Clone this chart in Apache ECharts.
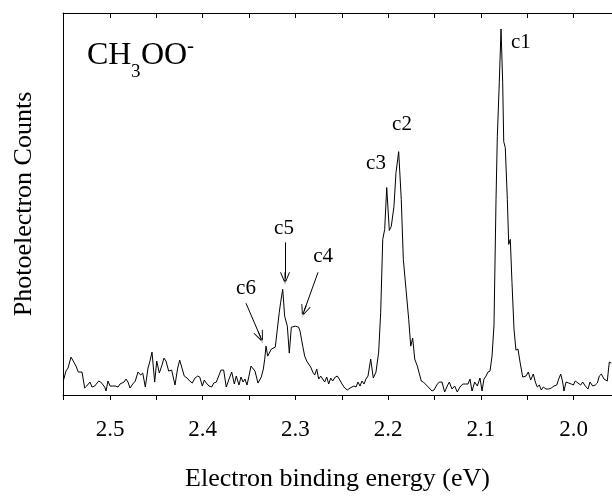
<!DOCTYPE html>
<html>
<head>
<meta charset="utf-8">
<script src="https://cdn.jsdelivr.net/npm/echarts@6/dist/echarts.min.js"></script>
<style>
  html, body { margin: 0; padding: 0; background: #fff; }
  #chart { width: 612px; height: 497px; }
</style>
</head>
<body>
<div id="chart"></div>
<script>
// binding energy (eV) left to right
const energy = [
  2.5504, 2.5475, 2.5453, 2.5421, 2.5396, 2.5367, 2.5342, 2.5324, 2.5302, 2.5273,
  2.5251, 2.5230, 2.5216, 2.5194, 2.5165, 2.5144, 2.5122, 2.5100, 2.5079, 2.5057,
  2.5043, 2.5022, 2.5000, 2.4971, 2.4943, 2.4914, 2.4892, 2.4871, 2.4849, 2.4827,
  2.4806, 2.4784, 2.4755, 2.4727, 2.4698, 2.4669, 2.4647, 2.4619, 2.4590, 2.4569,
  2.4547, 2.4518, 2.4496, 2.4468, 2.4439, 2.4418, 2.4396, 2.4367, 2.4335, 2.4299,
  2.4270, 2.4248, 2.4227, 2.4199, 2.4169, 2.4140, 2.4112, 2.4083, 2.4054, 2.4032,
  2.4004, 2.3983, 2.3961, 2.3932, 2.3903, 2.3881, 2.3853, 2.3832, 2.3803, 2.3774,
  2.3746, 2.3716, 2.3687, 2.3659, 2.3638, 2.3609, 2.3587, 2.3565, 2.3544, 2.3522,
  2.3501, 2.3479, 2.3458, 2.3436, 2.3404, 2.3368, 2.3346, 2.3331, 2.3317, 2.3299,
  2.3282, 2.3260, 2.3239, 2.3217, 2.3195, 2.3174, 2.3159, 2.3137, 2.3116, 2.3101,
  2.3087, 2.3066, 2.3044, 2.3023, 2.3001, 2.2986, 2.2965, 2.2950, 2.2936, 2.2921,
  2.2900, 2.2878, 2.2857, 2.2835, 2.2813, 2.2792, 2.2770, 2.2749, 2.2727, 2.2706,
  2.2684, 2.2662, 2.2641, 2.2619, 2.2598, 2.2570, 2.2548, 2.2527, 2.2497, 2.2468,
  2.2440, 2.2411, 2.2368, 2.2346, 2.2325, 2.2303, 2.2282, 2.2260, 2.2239, 2.2217,
  2.2188, 2.2160, 2.2131, 2.2102, 2.2080, 2.2058, 2.2037, 2.2015, 2.1987, 2.1966,
  2.1937, 2.1915, 2.1886, 2.1858, 2.1836, 2.1807, 2.1778, 2.1756, 2.1735, 2.1713,
  2.1685, 2.1664, 2.1642, 2.1620, 2.1599, 2.1577, 2.1556, 2.1527, 2.1505, 2.1476,
  2.1448, 2.1419, 2.1390, 2.1362, 2.1340, 2.1311, 2.1282, 2.1254, 2.1225, 2.1195,
  2.1167, 2.1138, 2.1117, 2.1095, 2.1066, 2.1038, 2.1009, 2.0987, 2.0966, 2.0944,
  2.0923, 2.0901, 2.0879, 2.0858, 2.0836, 2.0822, 2.0801, 2.0782, 2.0764, 2.0753,
  2.0736, 2.0714, 2.0699, 2.0682, 2.0664, 2.0642, 2.0621, 2.0599, 2.0577, 2.0548,
  2.0513, 2.0488, 2.0462, 2.0434, 2.0412, 2.0391, 2.0369, 2.0348, 2.0326, 2.0297,
  2.0268, 2.0240, 2.0211, 2.0181, 2.0160, 2.0138, 2.0117, 2.0103, 2.0081, 2.0052,
  2.0024, 2.0002, 1.9981, 1.9952, 1.9923, 1.9901, 1.9873, 1.9844, 1.9822, 1.9793,
  1.9765, 1.9743, 1.9722, 1.9700, 1.9671, 1.9636, 1.9614, 1.9592
];

// photoelectron counts (arbitrary units)
const counts = [
  14, 24, 27, 38, 34, 29, 23, 25, 23, 7,
  9, 8, 13, 8, 9, 11, 14, 13, 13, 8,
  4, 14, 9, 9, 9, 8, 11, 9, 13, 16,
  13, 7, 11, 14, 23, 20, 22, 8, 27, 34,
  43, 13, 34, 22, 30, 37, 34, 24, 25, 10,
  27, 35, 33, 19, 17, 14, 12, 17, 19, 18,
  9, 15, 12, 9, 8, 12, 13, 12, 25, 25,
  8, 16, 23, 11, 19, 10, 18, 13, 16, 10,
  19, 29, 27, 24, 12, 18, 26, 36, 49, 39,
  40, 46, 44, 48, 66, 83, 93, 106, 79, 81,
  69, 42, 68, 66, 69, 67, 68, 64, 66, 49,
  39, 34, 33, 28, 23, 20, 26, 16, 19, 17,
  13, 18, 11, 17, 14, 18, 19, 16, 11, 7,
  5, 7, 9, 8, 13, 9, 14, 11, 16, 19,
  36, 17, 23, 43, 83, 156, 166, 208, 165, 169,
  189, 223, 244, 196, 136, 106, 76, 49, 57, 36,
  29, 28, 14, 13, 12, 9, 8, 4, 5, 10,
  13, 13, 3, 9, 13, 6, 9, 3, 8, 11,
  11, 11, 16, 4, 13, 9, 17, 4, 16, 19,
  23, 24, 39, 70, 196, 259, 313, 367, 313, 254,
  248, 196, 151, 156, 113, 66, 45, 46, 33, 18,
  19, 23, 15, 21, 13, 8, 10, 5, 8, 6,
  6, 7, 9, 10, 16, 21, 13, 4, 13, 12,
  11, 10, 14, 12, 10, 13, 9, 6, 13, 9,
  10, 12, 19, 21, 16, 14, 33, 32
];

const tickValues = [2.0, 2.05, 2.1, 2.15, 2.2, 2.25, 2.3, 2.35, 2.4, 2.45, 2.5, 2.55];
const labelValues = [2.0, 2.1, 2.2, 2.3, 2.4, 2.5];

// peak labels and arrows (data coordinates)
const peakNames = ['c1', 'c2', 'c3', 'c4', 'c5', 'c6'];
const peakLabelE = [2.0567, 2.1850, 2.2131, 2.2702, 2.3123, 2.3533];
const peakLabelY = [353, 271, 232, 139, 167, 107];
const arrows = [
  [[2.3112, 153], [2.3112, 117]], // c5
  [[2.2756, 123], [2.2907, 84]],  // c4
  [[2.3533, 92], [2.3376, 58]]    // c6
];

const FONT = 'Liberation Serif';
const chevron = 'path://M0,0 L-5,12 L-4,12 L0,2.5 L4,12 L5,12 Z M-0.5,1 L0.5,1 L0.5,12 L-0.5,12 Z';

const chart = echarts.init(document.getElementById('chart'));

const baseX = {
  type: 'value',
  inverse: true,
  min: 1.9585,
  max: 2.5507,
  splitLine: { show: false },
  axisLine: { show: true, onZero: false, lineStyle: { color: '#000', width: 1 } }
};

chart.setOption({
  animation: false,
  backgroundColor: '#fff',
  grid: { left: 63, right: 0, top: 13, bottom: 101 },
  xAxis: [
    Object.assign({}, baseX, {
      position: 'bottom',
      axisTick: { show: true, inside: false, length: 5, customValues: tickValues, lineStyle: { color: '#000' } },
      axisLabel: {
        show: true,
        customValues: labelValues,
        formatter: v => v.toFixed(1),
        color: '#000',
        fontFamily: FONT,
        fontSize: 23,
        margin: 23
      },
      name: 'Electron binding energy (eV)',
      nameLocation: 'middle',
      nameGap: 71,
      nameTextStyle: { color: '#000', fontFamily: FONT, fontSize: 26 }
    }),
    Object.assign({}, baseX, {
      position: 'top',
      axisTick: { show: true, inside: true, length: 5, customValues: tickValues, lineStyle: { color: '#000' } },
      axisLabel: { show: false }
    })
  ],
  yAxis: {
    type: 'value',
    min: 0,
    max: 383,
    splitLine: { show: false },
    axisTick: { show: false },
    axisLabel: { show: false },
    axisLine: { show: true, lineStyle: { color: '#000', width: 1 } },
    name: 'Photoelectron Counts',
    nameLocation: 'middle',
    nameGap: 26,
    nameTextStyle: { color: '#000', fontFamily: FONT, fontSize: 26 }
  },
  graphic: [
    { type: 'text', left: 87, top: 40, style: { text: 'CH', font: '32px "Liberation Serif"', fill: '#000' } },
    { type: 'text', left: 131, top: 63, style: { text: '3', font: '19px "Liberation Serif"', fill: '#000' } },
    { type: 'text', left: 141, top: 40, style: { text: 'OO', font: '32px "Liberation Serif"', fill: '#000' } },
    { type: 'text', left: 187, top: 36, style: { text: '-', font: '21px "Liberation Serif"', fill: '#000' } }
  ],
  series: [{
    type: 'line',
    data: energy.map((e, i) => [e, counts[i]]),
    showSymbol: false,
    symbol: 'none',
    lineStyle: { color: '#000', width: 1 },
    markPoint: {
      symbol: 'circle',
      symbolSize: 1,
      itemStyle: { color: 'rgba(0,0,0,0)' },
      label: {
        show: true,
        position: 'inside',
        formatter: '{b}',
        color: '#000',
        fontFamily: FONT,
        fontSize: 21
      },
      data: peakNames.map((n, i) => ({ name: n, coord: [peakLabelE[i], peakLabelY[i]] }))
    },
    markLine: {
      silent: true,
      symbol: ['none', chevron],
      symbolSize: [10, 12],
      label: { show: false },
      lineStyle: { color: '#000', width: 1, type: 'solid' },
      data: arrows.map(a => [{ coord: a[0] }, { coord: a[1] }])
    }
  }]
});
</script>
</body>
</html>
